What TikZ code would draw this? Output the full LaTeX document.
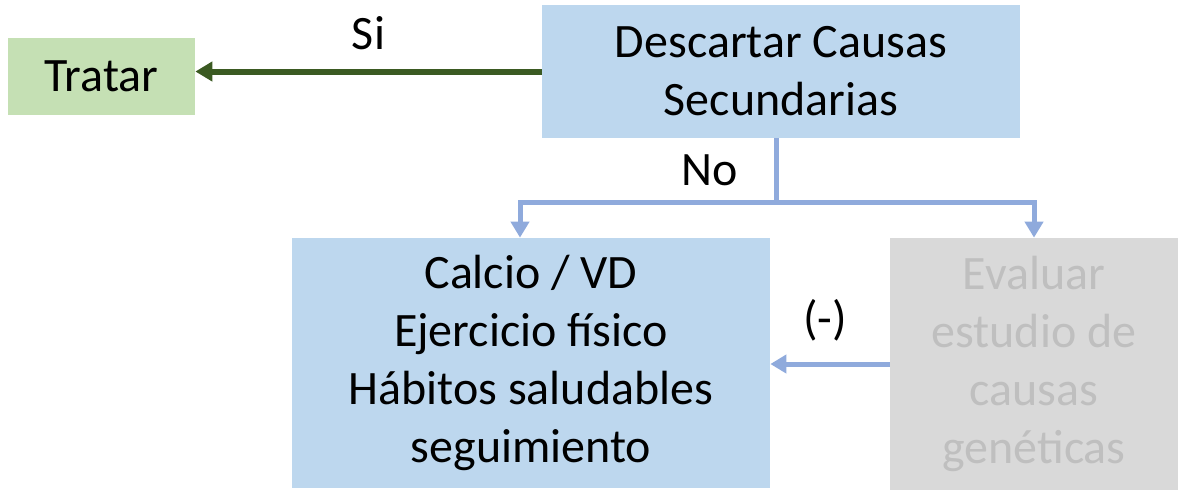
\documentclass[tikz,border=0pt]{standalone}
\usepackage{fontspec}
\setmainfont{Carlito}
\usetikzlibrary{arrows.meta, positioning}
\definecolor{boxblue}{HTML}{BDD7EE}
\definecolor{boxgreen}{HTML}{C5E0B4}
\definecolor{boxgray}{HTML}{D9D9D9}
\definecolor{textgray}{HTML}{BFBFBF}
\definecolor{lineblue}{HTML}{8FAADC}
\definecolor{linegreen}{HTML}{3B5A22}

\begin{document}
\begin{tikzpicture}[
    box/.style    = {rectangle, inner sep=0pt, align=center,
                     font=\fontsize{27.3}{33}\selectfont},
    bluebox/.style  = {box, fill=boxblue},
    greenbox/.style = {box, fill=boxgreen},
    graybox/.style  = {box, fill=boxgray, text=textgray},
    yes/.style    = {-{Triangle[width=0.38cm,length=0.34cm]}, line width=0.12cm, color=linegreen},
    no/.style     = {-{Triangle[width=0.36cm,length=0.32cm]}, line width=0.1cm, color=lineblue},
    tag/.style    = {text=black, font=\fontsize{27.3}{33}\selectfont}
  ]
  \useasboundingbox (0,0) rectangle (23.56,-9.8);

  % ── Boxes ─────────────────────────────────────────────────────────────────
  \node[greenbox, minimum width=3.74cm, minimum height=1.54cm] (tratar)   at ( 2.03,-1.53) {Tratar};
  \node[bluebox,  minimum width=9.56cm, minimum height=2.66cm] (descartar) at (15.62,-1.43) {Descartar Causas\\Secundarias};
  \node[bluebox,  minimum width=9.56cm, minimum height=5.00cm] (calcio)   at (10.62,-7.26) {Calcio / VD\\Ejercicio físico\\Hábitos saludables\\seguimiento};
  \node[graybox,  minimum width=5.76cm, minimum height=5.04cm] (evaluar)  at (20.68,-7.28) {Evaluar\\estudio de\\causas\\genéticas};

  % ── Connectors ────────────────────────────────────────────────────────────
  \coordinate (fork) at (15.52,-4.04);
  \draw[yes] (descartar.west) -- node[above=0.25cm, tag]{Si} (descartar.west -| tratar.east);
  \draw[no, -] (fork |- descartar.south) -- node[left=0.6cm, tag]{No} (fork);
  \draw[no] (fork) -| ([xshift=-0.22cm]calcio.north);
  \draw[no] (fork) -| (evaluar.north);
  \draw[no] (evaluar.west) -- node[above=0.3cm, xshift=-0.1cm, tag]{(-)} (evaluar.west -| calcio.east);

\end{tikzpicture}
\end{document}
